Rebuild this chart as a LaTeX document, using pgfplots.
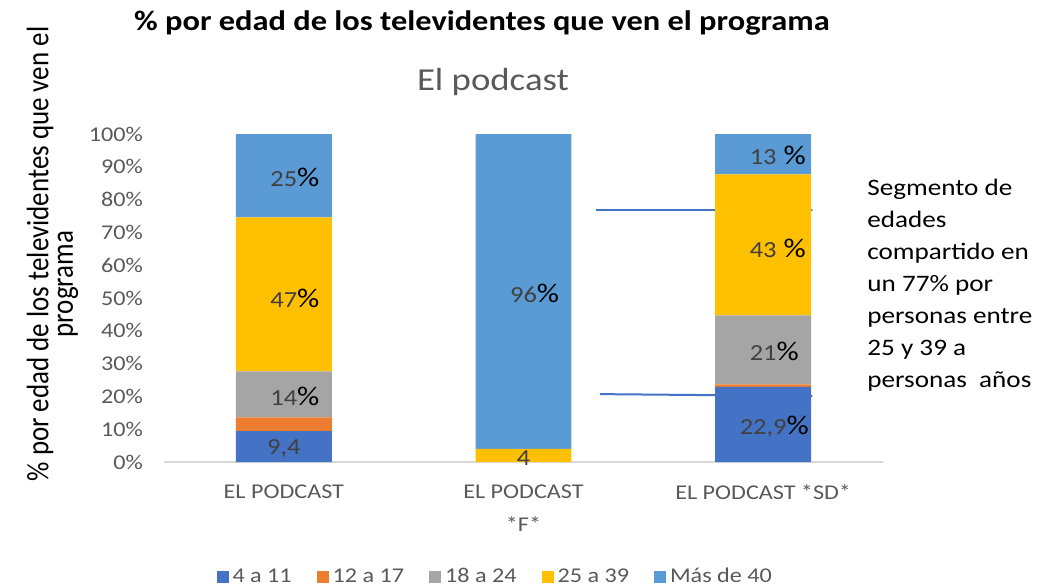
\documentclass[border=0pt]{standalone}
\usepackage{fontspec}
\setmainfont{Carlito}[FakeStretch=1.15]
\newfontfamily\plainfont{Carlito}
\usepackage{graphicx}
\usepackage{pgfplots}
\pgfplotsset{compat=1.18}
\usetikzlibrary{arrows.meta}
\definecolor{cA}{HTML}{4472C4}
\definecolor{cB}{HTML}{ED7D31}
\definecolor{cC}{HTML}{A5A5A5}
\definecolor{cD}{HTML}{FFC000}
\definecolor{cE}{HTML}{5B9BD5}
\definecolor{txtgray}{HTML}{595959}
\definecolor{lblgray}{HTML}{404040}
\definecolor{axgray}{HTML}{D9D9D9}
\pgfplotsset{
  sqleg/.style={legend image code/.code={\fill[##1] (0pt,-3pt) rectangle (6pt,3pt);}},
  myframe/.style={at={(82pt,62pt)}, anchor=south west, scale only axis,
    width=359.5pt, height=164pt, xmin=-0.5, xmax=2.5, ymin=0, ymax=100},
}
% number in gray, percent sign in black hanging to the right
\newcommand{\barlbl}[2]{{\color{lblgray}\fontsize{11.5}{12}\selectfont #1}\makebox[0pt][l]{\fontsize{13.5}{14}\selectfont #2}}
\begin{document}
\begin{tikzpicture}
\path[use as bounding box] (0,0) rectangle (519pt,293pt);

% annotation lines (behind the bars)
\begin{axis}[myframe, hide axis, clip=false]
\addplot[cA, line width=1pt, -{Stealth[length=2.5pt,width=3pt]}] coordinates {(1.3025,76.8) (2.208,76.8)};
\addplot[cA, line width=1pt, -{Stealth[length=2.5pt,width=3pt]}] coordinates {(1.319,20.7) (2.208,20.1)};
\end{axis}

\begin{axis}[myframe,
  ybar stacked, bar width=0.4,
  axis x line*=bottom, axis y line*=left,
  x axis line style={draw=axgray, line width=0.8pt},
  y axis line style={draw=none},
  major tick length=0pt,
  xtick={0,1,2},
  xticklabels={EL PODCAST, {EL PODCAST\\*F*}, EL PODCAST *SD*},
  xticklabel style={align=center, text=txtgray, font=\fontsize{10.5}{16.5}\selectfont, yshift=-8pt},
  ytick={0,10,...,100},
  yticklabels={0\%,10\%,20\%,30\%,40\%,50\%,60\%,70\%,80\%,90\%,100\%},
  yticklabel style={text=txtgray, font=\fontsize{10.5}{12}\selectfont, xshift=-7pt},
  legend style={at={(0.462,-0.351)}, anchor=center, legend columns=5,
    draw=none, fill=none, font=\fontsize{10.5}{12}\selectfont, text=txtgray,
    /tikz/every even column/.append style={column sep=10.5pt}},
  clip=false,
]
\addplot[sqleg, fill=cA, draw=none] coordinates {(0,9.4) (1,0) (2,22.9)};
\addplot[sqleg, fill=cB, draw=none] coordinates {(0,4.2) (1,0) (2,0.8)};
\addplot[sqleg, fill=cC, draw=none] coordinates {(0,14) (1,0) (2,21)};
\addplot[sqleg, fill=cD, draw=none] coordinates {(0,47) (1,4) (2,43)};
\addplot[sqleg, fill=cE, draw=none] coordinates {(0,25.4) (1,96) (2,12.3)};
\legend{4 a 11, 12 a 17, 18 a 24, 25 a 39, Más de 40}
\end{axis}

% data labels, drawn on top of the stacked bars
\begin{axis}[myframe, hide axis, clip=false]
\addplot[only marks, mark=none, nodes near coords, point meta=explicit symbolic,
  every node near coord/.append style={anchor=center, inner sep=0pt}]
  coordinates {
  (0,4.0)[\barlbl{9,4}{}] (0,20.1)[\barlbl{14}{\%}] (0,50.0)[\barlbl{47}{\%}] (0,86.9)[\barlbl{25}{\%}]
  (1,1.2)[\barlbl{4}{}] (1,51.5)[\barlbl{96}{\%}]
  (2,10.7)[\barlbl{22,9}{\%}] (2,33.8)[\barlbl{21}{\%}] (2,65.2)[\barlbl{43}{~\%}] (2,93.6)[\barlbl{13}{~\%}]
  };
\end{axis}

\node at (241pt,281.5pt) {\bfseries\fontsize{14.1}{16}\selectfont \% por edad de los televidentes que ven el programa};
\node[text=txtgray] at (246.5pt,252pt) {\fontsize{16}{18}\selectfont El podcast};
\node[rotate=90] at (20pt,166pt) {\scalebox{1}[1.15]{\plainfont\fontsize{13.5}{15}\selectfont \% por edad de los televidentes que ven el}};
\node[rotate=90] at (34pt,151pt) {\scalebox{1}[1.15]{\plainfont\fontsize{13.5}{15}\selectfont programa}};
\node[anchor=west, align=left, font=\fontsize{11.8}{16}\selectfont, inner sep=0pt] at (433.5pt,150.5pt)
  {Segmento de\\edades\\compartido en\\un 77\% por\\personas entre\\25 y 39 a\\personas~~años};
\end{tikzpicture}
\end{document}
